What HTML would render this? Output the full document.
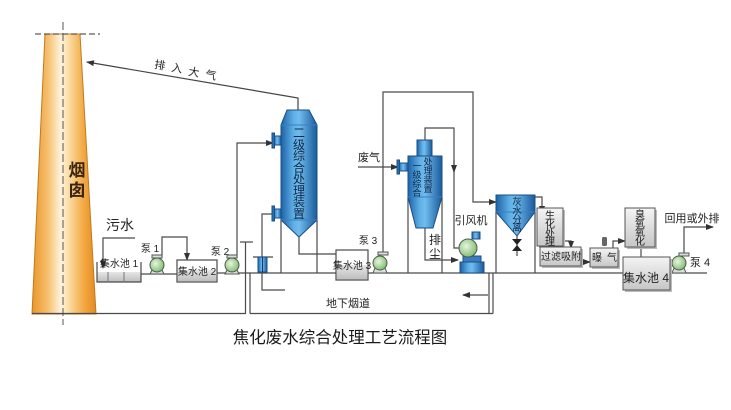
<!DOCTYPE html>
<html><head><meta charset="utf-8"><style>
html,body{margin:0;padding:0;background:#fff;}
svg{display:block;}
text{font-family:"Liberation Sans","Noto Sans CJK SC",sans-serif;fill:#222;}
</style></head><body>
<svg width="731" height="410" viewBox="0 0 731 410" xmlns="http://www.w3.org/2000/svg">
<defs>
<linearGradient id="chim" x1="0" x2="1" y1="0" y2="0">
<stop offset="0" stop-color="#eb9528"/><stop offset="0.25" stop-color="#f6c070"/><stop offset="0.45" stop-color="#fff3dc"/><stop offset="0.55" stop-color="#fde2b0"/><stop offset="0.8" stop-color="#f3aa45"/><stop offset="1" stop-color="#e58a1e"/>
</linearGradient>
<linearGradient id="blue" x1="0" x2="1" y1="0" y2="0">
<stop offset="0" stop-color="#1d62a8"/><stop offset="0.35" stop-color="#5fb0e6"/><stop offset="0.5" stop-color="#6fbcee"/><stop offset="1" stop-color="#1a5a9c"/>
</linearGradient>
<linearGradient id="gray" x1="0" x2="0" y1="0" y2="1">
<stop offset="0" stop-color="#f4f4f4"/><stop offset="1" stop-color="#c6c6c6"/>
</linearGradient>
<linearGradient id="water" x1="0" x2="0" y1="0" y2="1">
<stop offset="0" stop-color="#e6e6e6"/><stop offset="1" stop-color="#bdbdbd"/>
</linearGradient>
<radialGradient id="pump" cx="0.4" cy="0.4" r="0.6">
<stop offset="0" stop-color="#e6f6dc"/><stop offset="1" stop-color="#86bf78"/>
</radialGradient>
<marker id="ar" markerWidth="8" markerHeight="6" refX="7" refY="3" orient="auto" markerUnits="userSpaceOnUse">
<path d="M0,0 L8,3 L0,6 Z" fill="#333"/>
</marker>
</defs>

<!-- Chimney -->
<polygon points="45,34 80,34 96,314 32,314" fill="url(#chim)" stroke="#c07a20" stroke-width="1"/>
<line x1="35" y1="34" x2="100" y2="34" stroke="#333" stroke-width="1" stroke-dasharray="6,3"/>
<line x1="63" y1="22" x2="63" y2="325" stroke="#555" stroke-width="1" stroke-dasharray="8,3"/>
<text x="77" y="176" font-size="17" font-weight="bold" text-anchor="middle" style="fill:#3a2410">烟</text>
<text x="77" y="196" font-size="17" font-weight="bold" text-anchor="middle" style="fill:#3a2410">囱</text>

<!-- exhaust to atmosphere -->
<polyline points="298,110 298,98 87,62" fill="none" stroke="#444" stroke-width="1.2" marker-end="url(#ar)"/>
<g font-size="11">
<text x="160" y="69" text-anchor="middle" transform="rotate(9.6 160 65)">排</text>
<text x="177" y="72" text-anchor="middle" transform="rotate(9.6 177 68)">入</text>
<text x="194" y="76" text-anchor="middle" transform="rotate(9.6 194 72)">大</text>
<text x="211" y="79" text-anchor="middle" transform="rotate(9.6 211 75)">气</text>
</g>

<g fill="none" stroke="#4a4a4a" stroke-width="1.2">
<!-- flue -->
<line x1="32" y1="313.5" x2="246" y2="313.5"/>
<line x1="250" y1="313.5" x2="493" y2="313.5"/>
<line x1="245.5" y1="242" x2="245.5" y2="313.5"/>
<line x1="240" y1="242" x2="253" y2="242"/>
<line x1="250" y1="273" x2="250" y2="313.5"/>
<line x1="489" y1="273" x2="489" y2="313.5"/>
<line x1="493" y1="273" x2="493" y2="313.5"/>
<!-- main water line -->
<line x1="140" y1="274" x2="177" y2="274"/>
<line x1="217" y1="273" x2="336" y2="273"/>
<line x1="368" y1="273" x2="623" y2="273"/>
<line x1="670" y1="273" x2="707" y2="273"/>
<!-- 污水 inlet -->
<polyline points="135,238 103,238 103,268" marker-end="url(#ar)"/>
<!-- pump1 outlet -->
<polyline points="162,257 162,237 187,237 187,260" marker-end="url(#ar)"/>
<!-- pump2 outlet -->
<polyline points="237,258 237,143 273,143" marker-end="url(#ar)"/>
<!-- lower nozzle line -->
<polyline points="285,290 262,290 262,214 272,214"/>
<!-- tower legs -->
<line x1="281" y1="220" x2="281" y2="273"/>
<line x1="317" y1="220" x2="317" y2="273"/>
<polyline points="299,237 299,254 340,254"/>
<!-- pump3 outlet -->
<polyline points="383,254 383,92 473,92 473,202 496,202" marker-end="url(#ar)"/>
<!-- 废气 -->
<line x1="358" y1="167" x2="398" y2="167" marker-end="url(#ar)"/>
<!-- cyclone top to fan -->
<polyline points="425,140 425,128 454,128 454,248 459,248"/>
<line x1="454" y1="160" x2="454" y2="172" marker-end="url(#ar)"/>
<!-- dust -->
<polyline points="425,228 425,260 458,260" marker-end="url(#ar)"/>
<!-- cyclone legs -->
<line x1="408" y1="197" x2="408" y2="273"/>
<line x1="442" y1="197" x2="442" y2="273"/>
<!-- flue arrow -->
<line x1="488" y1="295" x2="463" y2="295" marker-end="url(#ar)"/>
<!-- separator legs -->
<line x1="496" y1="212" x2="496" y2="273"/>
<line x1="535" y1="212" x2="535" y2="273"/>
<line x1="517" y1="236" x2="517" y2="256"/>
<!-- overflow -->
<polyline points="535,197 542,197 542,213" marker-end="url(#ar)"/>
<polyline points="563,241 571,241 571,248" marker-end="url(#ar)"/>
<line x1="581" y1="262" x2="590" y2="262" marker-end="url(#ar)"/>
<polyline points="613,248 613,241 625,241" marker-end="url(#ar)"/>
<line x1="641" y1="247" x2="641" y2="265" marker-end="url(#ar)"/>
<line x1="657" y1="262" x2="672" y2="262"/>
<polyline points="684,255 684,227 713,227" marker-end="url(#ar)"/>
</g>

<!-- 集水池1 -->
<rect x="97" y="272" width="44" height="10" fill="url(#water)"/>
<polyline points="97,262 97,282 141,282 141,262" fill="none" stroke="#4a4a4a" stroke-width="1.2"/>
<line x1="108" y1="272" x2="108" y2="282" stroke="#777" stroke-width="1"/>
<line x1="124" y1="272" x2="124" y2="282" stroke="#777" stroke-width="1"/>
<text x="119" y="267" font-size="10" text-anchor="middle">集水池 1</text>
<text x="120" y="230" font-size="14" text-anchor="middle">污水</text>

<!-- 集水池2 -->
<rect x="177" y="260" width="40" height="22" fill="#fff" stroke="#4a4a4a" stroke-width="1.2"/>
<rect x="177.6" y="270" width="38.8" height="11.4" fill="url(#water)"/>
<text x="197" y="275" font-size="10" text-anchor="middle">集水池 2</text>

<!-- 集水池3 -->
<rect x="336" y="250" width="32" height="30" fill="#fff" stroke="#4a4a4a" stroke-width="1.2"/>
<rect x="336.6" y="265" width="30.8" height="14.4" fill="url(#water)"/>
<text x="352" y="269" font-size="10" text-anchor="middle">集水池 3</text>

<!-- pumps -->
<g stroke="#4d5a4d" stroke-width="1">
<g transform="translate(157,265)"><path d="M-5,5 L-7,9 L7,9 L5,5" fill="#ddd"/><rect x="-5" y="-10" width="10" height="3" fill="#ddd"/><circle r="7" fill="url(#pump)"/></g>
<g transform="translate(232,265)"><path d="M-5,5 L-7,9 L7,9 L5,5" fill="#ddd"/><rect x="-5" y="-10" width="10" height="3" fill="#ddd"/><circle r="7" fill="url(#pump)"/></g>
<g transform="translate(380,263)"><path d="M-5,5 L-7,10 L7,10 L5,5" fill="#ddd"/><rect x="-2" y="-11" width="10" height="3" fill="#ddd"/><circle r="7" fill="url(#pump)"/></g>
<g transform="translate(679,263)"><path d="M-5,5 L-7,10 L7,10 L5,5" fill="#ddd"/><rect x="0" y="-10" width="10" height="3" fill="#ddd"/><circle r="7" fill="url(#pump)"/></g>
</g>
<text x="150" y="252" font-size="10" text-anchor="middle">泵 1</text>
<text x="220" y="255" font-size="10" text-anchor="middle">泵 2</text>
<text x="368" y="244" font-size="10" text-anchor="middle">泵 3</text>
<text x="700" y="266" font-size="11" text-anchor="middle">泵 4</text>

<!-- Tower 2 -->
<g stroke="#1a4f86" stroke-width="1">
<rect x="274" y="136" width="7" height="9" fill="url(#blue)"/>
<rect x="272" y="133" width="2.5" height="15" fill="#2a6fb0"/>
<rect x="274" y="209" width="7" height="9" fill="url(#blue)"/>
<rect x="272" y="206" width="2.5" height="15" fill="#2a6fb0"/>
<path d="M287,110 L309,110 L317,125 L317,220 L299,237 L281,220 L281,125 Z" fill="url(#blue)"/>
<line x1="281" y1="125" x2="317" y2="125" stroke="#3a80c0"/>
<line x1="281" y1="220" x2="317" y2="220" stroke="#3a80c0"/>
</g>
<g font-size="12" text-anchor="middle">
<text x="299" y="137" style="fill:#10284a">二</text>
<text x="299" y="149" style="fill:#10284a">级</text>
<text x="299" y="160" style="fill:#10284a">综</text>
<text x="299" y="172" style="fill:#10284a">合</text>
<text x="299" y="183" style="fill:#10284a">处</text>
<text x="299" y="195" style="fill:#10284a">理</text>
<text x="299" y="206" style="fill:#10284a">装</text>
<text x="299" y="218" style="fill:#10284a">置</text>
</g>

<!-- Cyclone -->
<text x="369" y="161" font-size="11" text-anchor="middle">废气</text>
<g stroke="#1a4f86" stroke-width="1">
<rect x="399" y="163" width="9" height="8" fill="url(#blue)"/>
<rect x="397" y="160" width="2.5" height="14" fill="#2a6fb0"/>
<rect x="417" y="140" width="15" height="16" fill="url(#blue)"/>
<path d="M408,156 L442,156 L442,197 L433,228 L416,228 L408,197 Z" fill="url(#blue)"/>
<line x1="408" y1="197" x2="442" y2="197" stroke="#3a80c0"/>
</g>
<g font-size="9" text-anchor="middle">
<text x="428" y="165" style="fill:#10284a">处</text>
<text x="428" y="174" style="fill:#10284a">理</text>
<text x="428" y="183" style="fill:#10284a">装</text>
<text x="428" y="192" style="fill:#10284a">置</text>
<text x="417" y="169" style="fill:#10284a">一</text>
<text x="417" y="178" style="fill:#10284a">级</text>
<text x="417" y="187" style="fill:#10284a">综</text>
<text x="417" y="196" style="fill:#10284a">合</text>
</g>
<text x="435" y="244" font-size="12" text-anchor="middle">排</text>
<text x="435" y="258" font-size="12" text-anchor="middle">尘</text>

<!-- Fan -->
<text x="471" y="224" font-size="11" text-anchor="middle">引风机</text>
<g stroke="#1a4f86" stroke-width="1">
<rect x="472" y="232" width="8" height="7" fill="url(#blue)"/>
<rect x="463" y="256" width="18" height="6" fill="#3a7cc0"/>
<rect x="460" y="262" width="24" height="11" fill="url(#blue)"/>
</g>
<circle cx="468" cy="248" r="9" fill="url(#pump)" stroke="#4d5a4d" stroke-width="1"/>

<!-- 灰水分离 -->
<g stroke="#1a4f86" stroke-width="1">
<path d="M496,195 L535,195 L535,212 L517,236 L496,212 Z" fill="url(#blue)"/>
<line x1="496" y1="212" x2="535" y2="212" stroke="#3a80c0"/>
</g>
<g font-size="9.5" text-anchor="middle">
<text x="517" y="205" style="fill:#10284a">灰</text>
<text x="517" y="214" style="fill:#10284a">水</text>
<text x="517" y="223" style="fill:#10284a">分</text>
<text x="517" y="231" style="fill:#10284a">离</text>
</g>
<path d="M512,239 L522,239 L512,251 L522,251 Z" fill="#222"/>

<!-- process boxes -->
<g stroke="#555" stroke-width="1">
<rect x="539" y="210" width="26" height="38" fill="#bbb" stroke="none"/>
<rect x="537" y="208" width="26" height="38" fill="url(#gray)"/>
<rect x="542" y="249" width="41" height="19" fill="#bbb" stroke="none"/>
<rect x="540" y="247" width="41" height="19" fill="url(#gray)"/>
<rect x="592" y="250" width="28" height="19" fill="#bbb" stroke="none"/>
<rect x="590" y="248" width="28" height="19" fill="url(#gray)"/>
<rect x="627" y="210" width="30" height="39" fill="#bbb" stroke="none"/>
<rect x="625" y="208" width="30" height="39" fill="url(#gray)"/>
<rect x="625" y="259" width="47" height="33" fill="#bbb" stroke="none"/>
<rect x="623" y="257" width="47" height="33" fill="url(#gray)"/>
</g>
<rect x="602" y="237" width="5" height="9" rx="1.5" fill="#666"/>
<g font-size="10" text-anchor="middle">
<text x="550" y="219">生</text>
<text x="550" y="228">化</text>
<text x="550" y="237">处</text>
<text x="550" y="245">理</text>
<text x="561" y="260">过滤吸附</text>
<text x="597" y="261">曝</text>
<text x="612" y="261">气</text>
<text x="640" y="218">臭</text>
<text x="640" y="227">氧</text>
<text x="640" y="236">氧</text>
<text x="640" y="245">化</text>
</g>
<text x="646" y="282" font-size="12" text-anchor="middle">集水池 4</text>
<text x="692" y="222" font-size="11" text-anchor="middle">回用或外排</text>

<!-- blue filter -->
<line x1="253" y1="257" x2="273" y2="257" stroke="#4a4a4a" stroke-width="1.2"/>
<rect x="258" y="257" width="9" height="15" fill="url(#blue)" stroke="#1a4f86" stroke-width="1"/>
<line x1="262.5" y1="257" x2="262.5" y2="272" stroke="#0e3c6e" stroke-width="1"/>

<text x="348" y="307" font-size="11" text-anchor="middle">地下烟道</text>
<text x="340" y="343" font-size="16.5" text-anchor="middle" style="fill:#1a1a1a">焦化废水综合处理工艺流程图</text>
</svg>
</body></html>
